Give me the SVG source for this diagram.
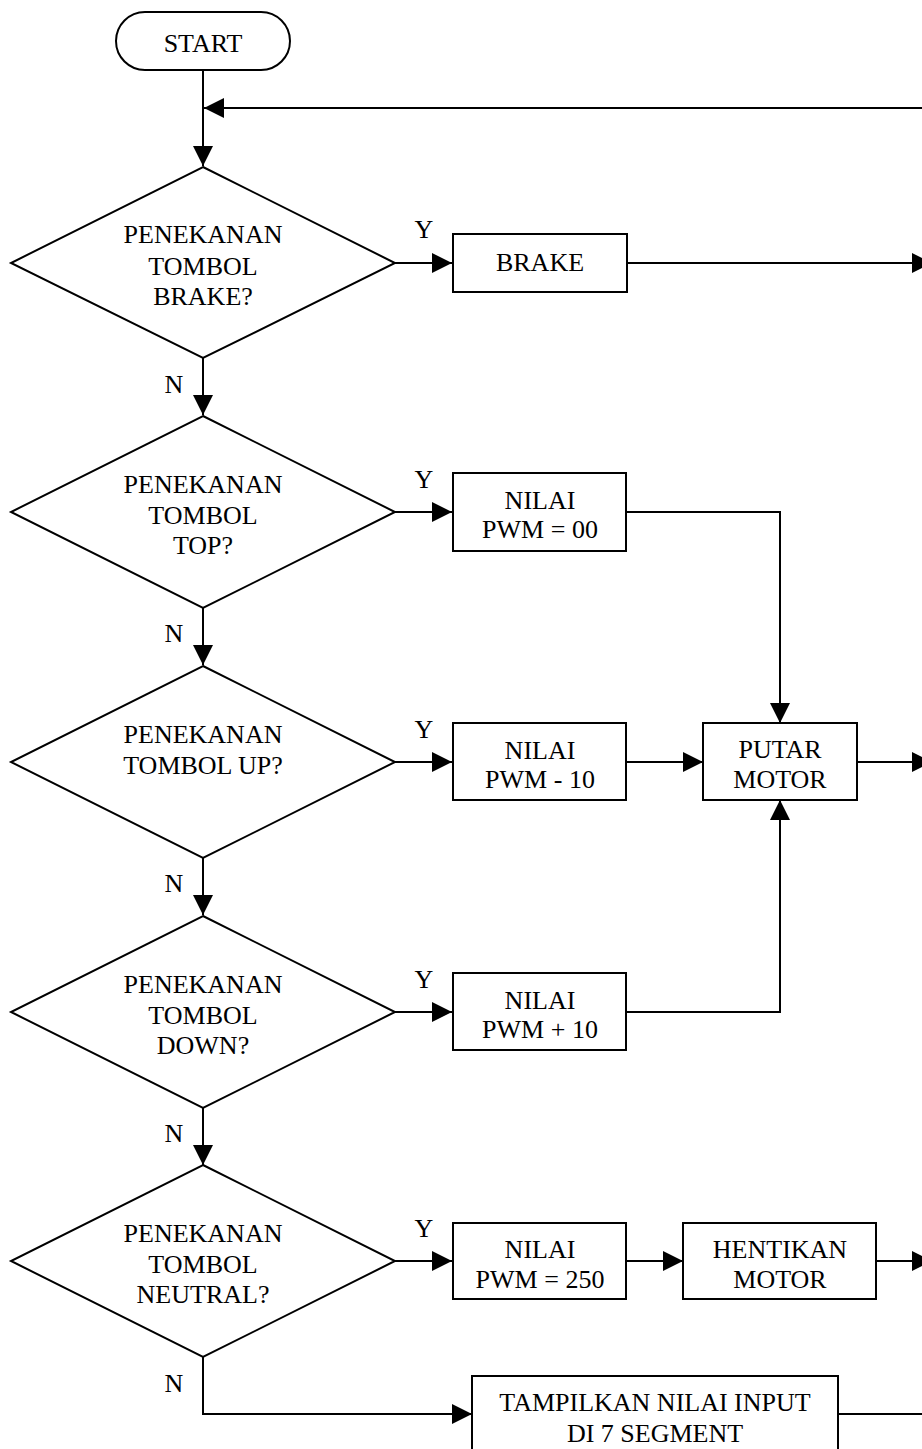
<svg xmlns="http://www.w3.org/2000/svg" width="922" height="1449" viewBox="0 0 922 1449">
<style>
.s{fill:#fff;stroke:#000;stroke-width:2}
.c{fill:none;stroke:#000;stroke-width:2}
text{font-family:"Liberation Serif","Times New Roman",serif;font-size:26px;fill:#000;text-anchor:middle}
</style>
<defs>
<marker id="a" markerUnits="userSpaceOnUse" markerWidth="20" markerHeight="20" refX="20" refY="10" orient="auto">
<path d="M0,0 L20,10 L0,20 Z" fill="#000"/>
</marker>
</defs>
<rect width="922" height="1449" fill="#fff"/>
<g id="connectors">
<path class="c" d="M203,70 V166" marker-end="url(#a)"/>
<path class="c" d="M922,108 H204" marker-end="url(#a)"/>
<path class="c" d="M395,263 H452" marker-end="url(#a)"/>
<path class="c" d="M627,263 H932" marker-end="url(#a)"/>
<path class="c" d="M203,358 V415" marker-end="url(#a)"/>
<path class="c" d="M395,512 H452" marker-end="url(#a)"/>
<path class="c" d="M626,512 H780 V723" marker-end="url(#a)"/>
<path class="c" d="M203,608 V665" marker-end="url(#a)"/>
<path class="c" d="M395,762 H452" marker-end="url(#a)"/>
<path class="c" d="M626,762 H703" marker-end="url(#a)"/>
<path class="c" d="M857,762 H932" marker-end="url(#a)"/>
<path class="c" d="M203,858 V915" marker-end="url(#a)"/>
<path class="c" d="M395,1012 H452" marker-end="url(#a)"/>
<path class="c" d="M626,1012 H780 V800" marker-end="url(#a)"/>
<path class="c" d="M203,1108 V1165" marker-end="url(#a)"/>
<path class="c" d="M395,1261 H452" marker-end="url(#a)"/>
<path class="c" d="M626,1261 H683" marker-end="url(#a)"/>
<path class="c" d="M876,1261 H932" marker-end="url(#a)"/>
<path class="c" d="M203,1357 V1414 H472" marker-end="url(#a)"/>
<path class="c" d="M838,1414 H922"/>
<text x="424" y="238">Y</text>
<text x="174" y="393">N</text>
<text x="424" y="488">Y</text>
<text x="174" y="642">N</text>
<text x="424" y="738">Y</text>
<text x="174" y="892">N</text>
<text x="424" y="988">Y</text>
<text x="174" y="1142">N</text>
<text x="424" y="1237">Y</text>
<text x="174" y="1392">N</text>
</g>
<g id="start">
<rect class="s" x="116" y="12" width="174" height="58" rx="29" ry="29"/>
<text x="203" y="52">START</text>
</g>
<g id="d-brake">
<polygon class="s" points="203,167 395,263 203,358 11,263"/>
<text x="203" y="243">PENEKANAN</text>
<text x="203" y="275">TOMBOL</text>
<text x="203" y="305">BRAKE?</text>
</g>
<g id="brake">
<rect class="s" x="453" y="234" width="174" height="58"/>
<text x="540" y="271">BRAKE</text>
</g>
<g id="d-top">
<polygon class="s" points="203,416 395,512 203,608 11,512"/>
<text x="203" y="493">PENEKANAN</text>
<text x="203" y="524">TOMBOL</text>
<text x="203" y="554">TOP?</text>
</g>
<g id="pwm00">
<rect class="s" x="453" y="473" width="173" height="78"/>
<text x="540" y="509">NILAI</text>
<text x="540" y="538">PWM = 00</text>
</g>
<g id="d-up">
<polygon class="s" points="203,666 395,762 203,858 11,762"/>
<text x="203" y="743">PENEKANAN</text>
<text x="203" y="774">TOMBOL UP?</text>
</g>
<g id="pwm-10">
<rect class="s" x="453" y="723" width="173" height="77"/>
<text x="540" y="759">NILAI</text>
<text x="540" y="788">PWM - 10</text>
</g>
<g id="putar">
<rect class="s" x="703" y="723" width="154" height="77"/>
<text x="780" y="758">PUTAR</text>
<text x="780" y="788">MOTOR</text>
</g>
<g id="d-down">
<polygon class="s" points="203,916 395,1012 203,1108 11,1012"/>
<text x="203" y="993">PENEKANAN</text>
<text x="203" y="1024">TOMBOL</text>
<text x="203" y="1054">DOWN?</text>
</g>
<g id="pwm+10">
<rect class="s" x="453" y="973" width="173" height="77"/>
<text x="540" y="1009">NILAI</text>
<text x="540" y="1038">PWM + 10</text>
</g>
<g id="d-neutral">
<polygon class="s" points="203,1165 395,1261 203,1357 11,1261"/>
<text x="203" y="1242">PENEKANAN</text>
<text x="203" y="1273">TOMBOL</text>
<text x="203" y="1303">NEUTRAL?</text>
</g>
<g id="pwm250">
<rect class="s" x="453" y="1223" width="173" height="76"/>
<text x="540" y="1258">NILAI</text>
<text x="540" y="1288">PWM = 250</text>
</g>
<g id="hentikan">
<rect class="s" x="683" y="1223" width="193" height="76"/>
<text x="780" y="1258">HENTIKAN</text>
<text x="780" y="1288">MOTOR</text>
</g>
<g id="tampilkan">
<rect class="s" x="472" y="1376" width="366" height="90"/>
<text x="655" y="1411">TAMPILKAN NILAI INPUT</text>
<text x="655" y="1442">DI 7 SEGMENT</text>
</g>
</svg>
